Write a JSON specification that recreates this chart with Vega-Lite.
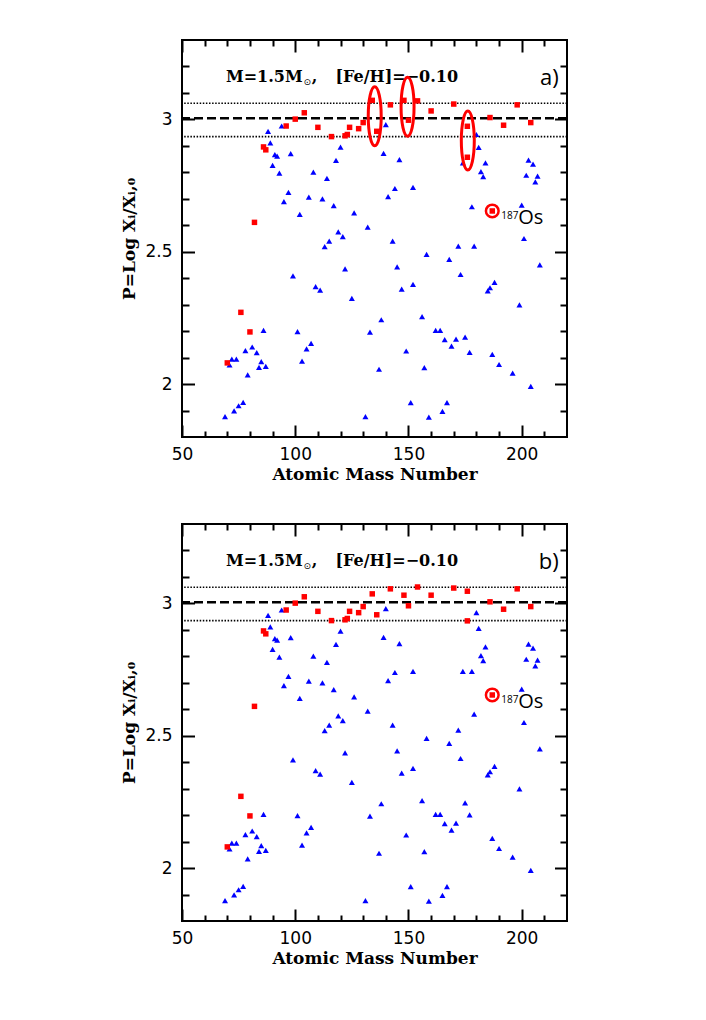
{
  "$schema": "https://vega.github.io/schema/vega-lite/v6.json",
  "padding": {"left": 119, "top": 38, "right": 5, "bottom": 5},
  "background": "white",
  "spacing": 87,
  "bounds": "flush",
  "datasets": {
    "one": [{}],
    "blue_a": [
      {"A":69,"P":1.877},{"A":71,"P":2.072},{"A":72,"P":2.094},{"A":73,"P":1.899},{"A":74,"P":2.094},{"A":75,"P":1.918},{"A":77,"P":1.931},{"A":78,"P":2.126},{"A":79,"P":2.035},{"A":81,"P":2.140},{"A":83,"P":2.119},{"A":84,"P":2.063},{"A":85,"P":2.085},{"A":86,"P":2.203},{"A":87,"P":2.067},{"A":88,"P":2.955},{"A":89,"P":2.911},{"A":90,"P":2.826},{"A":91,"P":2.867},{"A":92,"P":2.861},{"A":93,"P":2.797},{"A":94,"P":2.975},{"A":95,"P":2.689},{"A":97,"P":2.724},{"A":98,"P":2.871},{"A":99,"P":2.409},{"A":101,"P":2.198},{"A":102,"P":2.641},{"A":103,"P":2.087},{"A":105,"P":2.133},{"A":106,"P":2.706},{"A":107,"P":2.154},{"A":108,"P":2.801},{"A":109,"P":2.368},{"A":111,"P":2.355},{"A":112,"P":2.700},{"A":113,"P":2.519},{"A":114,"P":2.777},{"A":115,"P":2.540},{"A":117,"P":2.674},{"A":118,"P":2.845},{"A":119,"P":2.575},{"A":120,"P":2.895},{"A":121,"P":2.557},{"A":122,"P":2.435},{"A":125,"P":2.324},{"A":126,"P":2.647},{"A":131,"P":1.877},{"A":132,"P":2.593},{"A":133,"P":2.196},{"A":137,"P":2.056},{"A":138,"P":2.243},{"A":139,"P":2.872},{"A":140,"P":2.980},{"A":141,"P":2.708},{"A":143,"P":2.540},{"A":144,"P":2.739},{"A":145,"P":2.443},{"A":146,"P":2.848},{"A":147,"P":2.359},{"A":149,"P":2.125},{"A":151,"P":1.930},{"A":152,"P":2.377},{"A":152,"P":2.743},{"A":156,"P":2.255},{"A":157,"P":2.062},{"A":158,"P":2.490},{"A":159,"P":1.875},{"A":162,"P":2.203},{"A":164,"P":2.203},{"A":165,"P":1.897},{"A":166,"P":2.168},{"A":167,"P":1.930},{"A":168,"P":2.471},{"A":169,"P":2.143},{"A":171,"P":2.170},{"A":172,"P":2.521},{"A":173,"P":2.414},{"A":174,"P":2.836},{"A":175,"P":2.177},{"A":177,"P":2.120},{"A":178,"P":2.670},{"A":179,"P":2.521},{"A":180,"P":2.943},{"A":181,"P":2.894},{"A":182,"P":2.803},{"A":183,"P":2.784},{"A":184,"P":2.836},{"A":185,"P":2.352},{"A":186,"P":2.364},{"A":187,"P":2.112},{"A":188,"P":2.384},{"A":190,"P":2.074},{"A":196,"P":2.041},{"A":199,"P":2.299},{"A":200,"P":2.676},{"A":201,"P":2.550},{"A":202,"P":2.789},{"A":203,"P":2.846},{"A":204,"P":1.991},{"A":205,"P":2.831},{"A":206,"P":2.764},{"A":207,"P":2.786},{"A":208,"P":2.450}
    ],
    "blue_b": [
      {"A":69,"P":1.877},{"A":71,"P":2.072},{"A":72,"P":2.094},{"A":73,"P":1.899},{"A":74,"P":2.094},{"A":75,"P":1.918},{"A":77,"P":1.931},{"A":78,"P":2.126},{"A":79,"P":2.035},{"A":81,"P":2.140},{"A":83,"P":2.119},{"A":84,"P":2.063},{"A":85,"P":2.085},{"A":86,"P":2.203},{"A":87,"P":2.067},{"A":88,"P":2.955},{"A":89,"P":2.911},{"A":90,"P":2.826},{"A":91,"P":2.867},{"A":92,"P":2.861},{"A":93,"P":2.797},{"A":94,"P":2.975},{"A":95,"P":2.689},{"A":97,"P":2.724},{"A":98,"P":2.871},{"A":99,"P":2.409},{"A":101,"P":2.198},{"A":102,"P":2.641},{"A":103,"P":2.087},{"A":105,"P":2.133},{"A":106,"P":2.706},{"A":107,"P":2.154},{"A":108,"P":2.801},{"A":109,"P":2.368},{"A":111,"P":2.355},{"A":112,"P":2.700},{"A":113,"P":2.519},{"A":114,"P":2.777},{"A":115,"P":2.540},{"A":117,"P":2.674},{"A":118,"P":2.845},{"A":119,"P":2.575},{"A":120,"P":2.895},{"A":121,"P":2.557},{"A":122,"P":2.435},{"A":125,"P":2.324},{"A":126,"P":2.647},{"A":131,"P":1.877},{"A":132,"P":2.593},{"A":133,"P":2.196},{"A":137,"P":2.056},{"A":138,"P":2.243},{"A":139,"P":2.872},{"A":140,"P":2.980},{"A":141,"P":2.708},{"A":143,"P":2.540},{"A":144,"P":2.739},{"A":145,"P":2.443},{"A":146,"P":2.848},{"A":147,"P":2.359},{"A":149,"P":2.125},{"A":151,"P":1.930},{"A":152,"P":2.377},{"A":152,"P":2.743},{"A":156,"P":2.255},{"A":157,"P":2.062},{"A":158,"P":2.490},{"A":159,"P":1.875},{"A":162,"P":2.203},{"A":164,"P":2.203},{"A":165,"P":1.897},{"A":166,"P":2.168},{"A":167,"P":1.930},{"A":168,"P":2.471},{"A":169,"P":2.143},{"A":171,"P":2.170},{"A":172,"P":2.521},{"A":173,"P":2.414},{"A":174,"P":2.743},{"A":175,"P":2.246},{"A":177,"P":2.201},{"A":178,"P":2.743},{"A":179,"P":2.582},{"A":180,"P":2.965},{"A":181,"P":2.906},{"A":182,"P":2.803},{"A":183,"P":2.784},{"A":184,"P":2.836},{"A":185,"P":2.352},{"A":186,"P":2.364},{"A":187,"P":2.112},{"A":188,"P":2.384},{"A":190,"P":2.074},{"A":196,"P":2.041},{"A":199,"P":2.299},{"A":200,"P":2.676},{"A":201,"P":2.550},{"A":202,"P":2.789},{"A":203,"P":2.846},{"A":204,"P":1.991},{"A":205,"P":2.831},{"A":206,"P":2.764},{"A":207,"P":2.786},{"A":208,"P":2.450}
    ],
    "red_a": [
      {"A":70,"P":2.080},{"A":76,"P":2.271},{"A":80,"P":2.197},{"A":82,"P":2.611},{"A":86,"P":2.896},{"A":87,"P":2.885},{"A":96,"P":2.975},{"A":100,"P":3.001},{"A":104,"P":3.025},{"A":110,"P":2.970},{"A":116,"P":2.935},{"A":122,"P":2.938},{"A":123,"P":2.943},{"A":124,"P":2.970},{"A":128,"P":2.965},{"A":130,"P":2.988},{"A":134,"P":3.072},{"A":136,"P":2.955},{"A":142,"P":3.055},{"A":148,"P":3.072},{"A":150,"P":2.997},{"A":154,"P":3.070},{"A":160,"P":3.032},{"A":170,"P":3.058},{"A":176,"P":2.974},{"A":176,"P":2.857},{"A":186,"P":3.007},{"A":187,"P":2.654},{"A":192,"P":2.978},{"A":198,"P":3.055},{"A":204,"P":2.988}
    ],
    "red_b": [
      {"A":70,"P":2.080},{"A":76,"P":2.271},{"A":80,"P":2.197},{"A":82,"P":2.611},{"A":86,"P":2.896},{"A":87,"P":2.885},{"A":96,"P":2.975},{"A":100,"P":3.001},{"A":104,"P":3.025},{"A":110,"P":2.970},{"A":116,"P":2.935},{"A":122,"P":2.938},{"A":123,"P":2.943},{"A":124,"P":2.970},{"A":128,"P":2.965},{"A":130,"P":2.988},{"A":134,"P":3.036},{"A":136,"P":2.957},{"A":142,"P":3.055},{"A":148,"P":3.031},{"A":150,"P":2.991},{"A":154,"P":3.062},{"A":160,"P":3.031},{"A":170,"P":3.058},{"A":176,"P":3.046},{"A":176,"P":2.934},{"A":186,"P":3.006},{"A":187,"P":2.654},{"A":192,"P":2.978},{"A":198,"P":3.055},{"A":204,"P":2.988}
    ]
  },
  "vconcat": [
    {
      "width": 385,
      "height": 397,
      "resolve": {"axis": {"x": "independent", "y": "independent"}},
      "layer": [
        {"data": {"name": "one"}, "mark": {"type": "rule", "strokeDash": [1.5, 1.6], "strokeWidth": 1.7, "color": "black"}, "encoding": {"y": {"datum": 3.061, "type": "quantitative", "axis": null}}},
        {"data": {"name": "one"}, "mark": {"type": "rule", "strokeDash": [1.5, 1.6], "strokeWidth": 1.7, "color": "black"}, "encoding": {"y": {"datum": 2.935, "type": "quantitative", "axis": null}}},
        {"data": {"name": "one"}, "mark": {"type": "rule", "strokeDash": [9, 4], "strokeWidth": 2.5, "color": "black"}, "encoding": {"y": {"datum": 3.004, "type": "quantitative", "axis": null}}},
        {
          "data": {"name": "blue_a"},
          "mark": {"type": "point", "shape": "triangle-up", "filled": true, "color": "#0000ff", "size": 36, "opacity": 1},
          "encoding": {
            "x": {"field": "A", "type": "quantitative", "scale": {"domain": [50, 220], "nice": false, "zero": false},
                  "axis": {"orient": "bottom", "values": [50, 100, 150, 200], "format": "d", "ticks": false, "labelPadding": 9.5, "labelFlush": false, "title": "Atomic Mass Number", "titlePadding": 4}},
            "y": {"field": "P", "type": "quantitative", "scale": {"domain": [1.8, 3.3], "nice": false, "zero": false},
                  "axis": {"orient": "left", "values": [2, 2.5, 3], "format": "~g", "ticks": false, "labelPadding": 10, "title": "P=Log Xᵢ/Xᵢ,₀", "titlePadding": 6}}
          }
        },
        {
          "data": {"name": "red_a"},
          "mark": {"type": "point", "shape": "square", "filled": true, "color": "#ff0000", "size": 30, "opacity": 1},
          "encoding": {
            "x": {"field": "A", "type": "quantitative", "axis": {"orient": "bottom", "values": [50, 100, 150, 200], "labels": false, "tickSize": -12, "title": null}},
            "y": {"field": "P", "type": "quantitative", "axis": {"orient": "left", "values": [2, 2.5, 3], "labels": false, "tickSize": -12.5, "title": null}}
          }
        },
        {
          "data": {"name": "one"},
          "mark": {"type": "point", "shape": "circle", "filled": false, "stroke": "#ff0000", "strokeWidth": 2.5, "size": 160, "opacity": 1},
          "encoding": {
            "x": {"datum": 187, "type": "quantitative", "axis": {"orient": "bottom", "values": [60, 70, 80, 90, 110, 120, 130, 140, 160, 170, 180, 190, 210], "labels": false, "tickSize": -6, "title": null}},
            "y": {"datum": 2.654, "type": "quantitative", "axis": {"orient": "left", "values": [1.9, 2.1, 2.2, 2.3, 2.4, 2.6, 2.7, 2.8, 2.9, 3.1, 3.2], "labels": false, "tickSize": -7, "title": null}}
          }
        },
        {
          "data": {"name": "one"},
          "mark": {"type": "text", "text": "M=1.5M", "align": "left", "baseline": "alphabetic", "font": "DejaVu Serif", "fontWeight": "bold", "fontSize": 16, "color": "black"},
          "encoding": {
            "x": {"datum": 69.4, "type": "quantitative", "axis": {"orient": "top", "values": [50, 100, 150, 200], "labels": false, "tickSize": -12, "title": null}},
            "y": {"datum": 3.1415, "type": "quantitative", "axis": {"orient": "right", "values": [2, 2.5, 3], "labels": false, "tickSize": -12.5, "title": null}}
          }
        },
        {
          "data": {"name": "one"},
          "mark": {"type": "text", "text": "⊙", "align": "left", "baseline": "alphabetic", "font": "DejaVu Sans", "fontSize": 9, "color": "black"},
          "encoding": {"x": {"datum": 103.6, "type": "quantitative", "axis": null}, "y": {"datum": 3.131, "type": "quantitative", "axis": null}}
        },
        {
          "data": {"name": "one"},
          "mark": {"type": "text", "text": ",", "align": "left", "baseline": "alphabetic", "font": "DejaVu Serif", "fontWeight": "bold", "fontSize": 16, "color": "black"},
          "encoding": {"x": {"datum": 107.3, "type": "quantitative", "axis": null}, "y": {"datum": 3.1415, "type": "quantitative", "axis": null}}
        },
        {
          "data": {"name": "one"},
          "mark": {"type": "text", "text": "[Fe/H]=−0.10", "align": "right", "baseline": "alphabetic", "font": "DejaVu Serif", "fontWeight": "bold", "fontSize": 16, "color": "black"},
          "encoding": {"x": {"datum": 171.9, "type": "quantitative", "axis": null}, "y": {"datum": 3.1415, "type": "quantitative", "axis": null}}
        },
        {
          "data": {"name": "one"},
          "mark": {"type": "text", "text": "a)", "align": "right", "baseline": "alphabetic", "font": "Open Sans", "fontSize": 22, "color": "black"},
          "encoding": {
            "x": {"datum": 216.3, "type": "quantitative", "axis": {"orient": "top", "values": [60, 70, 80, 90, 110, 120, 130, 140, 160, 170, 180, 190, 210], "labels": false, "tickSize": -6, "title": null}},
            "y": {"datum": 3.129, "type": "quantitative", "axis": {"orient": "right", "values": [1.9, 2.1, 2.2, 2.3, 2.4, 2.6, 2.7, 2.8, 2.9, 3.1, 3.2], "labels": false, "tickSize": -7, "title": null}}
          }
        },
        {
          "data": {"name": "one"},
          "mark": {"type": "text", "text": "187", "align": "left", "baseline": "alphabetic", "font": "Open Sans", "fontSize": 10, "color": "black"},
          "encoding": {"x": {"datum": 191.0, "type": "quantitative", "axis": null}, "y": {"datum": 2.6245, "type": "quantitative", "axis": null}}
        },
        {
          "data": {"name": "one"},
          "mark": {"type": "text", "text": "Os", "align": "left", "baseline": "alphabetic", "font": "Open Sans", "fontSize": 20, "color": "black"},
          "encoding": {"x": {"datum": 198.5, "type": "quantitative", "axis": null}, "y": {"datum": 2.604, "type": "quantitative", "axis": null}}
        },
        {
          "data": {"name": "one"},
          "mark": {"type": "point", "shape": "M0,-1C0.1215,-1,0.22,-0.5523,0.22,0C0.22,0.5523,0.1215,1,0,1C-0.1215,1,-0.22,0.5523,-0.22,0C-0.22,-0.5523,-0.1215,-1,0,-1Z", "filled": false, "stroke": "#ff0000", "strokeWidth": 3, "size": 3481, "opacity": 1},
          "encoding": {"x": {"datum": 135.1, "type": "quantitative", "axis": null}, "y": {"datum": 3.012, "type": "quantitative", "axis": null}}
        },
        {
          "data": {"name": "one"},
          "mark": {"type": "point", "shape": "M0,-1C0.1215,-1,0.22,-0.5523,0.22,0C0.22,0.5523,0.1215,1,0,1C-0.1215,1,-0.22,0.5523,-0.22,0C-0.22,-0.5523,-0.1215,-1,0,-1Z", "filled": false, "stroke": "#ff0000", "strokeWidth": 3, "size": 3481, "opacity": 1},
          "encoding": {"x": {"datum": 149.6, "type": "quantitative", "axis": null}, "y": {"datum": 3.048, "type": "quantitative", "axis": null}}
        },
        {
          "data": {"name": "one"},
          "mark": {"type": "point", "shape": "M0,-1C0.1215,-1,0.22,-0.5523,0.22,0C0.22,0.5523,0.1215,1,0,1C-0.1215,1,-0.22,0.5523,-0.22,0C-0.22,-0.5523,-0.1215,-1,0,-1Z", "filled": false, "stroke": "#ff0000", "strokeWidth": 3, "size": 3481, "opacity": 1},
          "encoding": {"x": {"datum": 176.2, "type": "quantitative", "axis": null}, "y": {"datum": 2.92, "type": "quantitative", "axis": null}}
        }
      ]
    },
    {
      "width": 385,
      "height": 397,
      "resolve": {"axis": {"x": "independent", "y": "independent"}},
      "layer": [
        {"data": {"name": "one"}, "mark": {"type": "rule", "strokeDash": [1.5, 1.6], "strokeWidth": 1.7, "color": "black"}, "encoding": {"y": {"datum": 3.061, "type": "quantitative", "axis": null}}},
        {"data": {"name": "one"}, "mark": {"type": "rule", "strokeDash": [1.5, 1.6], "strokeWidth": 1.7, "color": "black"}, "encoding": {"y": {"datum": 2.935, "type": "quantitative", "axis": null}}},
        {"data": {"name": "one"}, "mark": {"type": "rule", "strokeDash": [9, 4], "strokeWidth": 2.5, "color": "black"}, "encoding": {"y": {"datum": 3.004, "type": "quantitative", "axis": null}}},
        {
          "data": {"name": "blue_b"},
          "mark": {"type": "point", "shape": "triangle-up", "filled": true, "color": "#0000ff", "size": 36, "opacity": 1},
          "encoding": {
            "x": {"field": "A", "type": "quantitative", "scale": {"domain": [50, 220], "nice": false, "zero": false},
                  "axis": {"orient": "bottom", "values": [50, 100, 150, 200], "format": "d", "ticks": false, "labelPadding": 9.5, "labelFlush": false, "title": "Atomic Mass Number", "titlePadding": 4}},
            "y": {"field": "P", "type": "quantitative", "scale": {"domain": [1.8, 3.3], "nice": false, "zero": false},
                  "axis": {"orient": "left", "values": [2, 2.5, 3], "format": "~g", "ticks": false, "labelPadding": 10, "title": "P=Log Xᵢ/Xᵢ,₀", "titlePadding": 6}}
          }
        },
        {
          "data": {"name": "red_b"},
          "mark": {"type": "point", "shape": "square", "filled": true, "color": "#ff0000", "size": 30, "opacity": 1},
          "encoding": {
            "x": {"field": "A", "type": "quantitative", "axis": {"orient": "bottom", "values": [50, 100, 150, 200], "labels": false, "tickSize": -12, "title": null}},
            "y": {"field": "P", "type": "quantitative", "axis": {"orient": "left", "values": [2, 2.5, 3], "labels": false, "tickSize": -12.5, "title": null}}
          }
        },
        {
          "data": {"name": "one"},
          "mark": {"type": "point", "shape": "circle", "filled": false, "stroke": "#ff0000", "strokeWidth": 2.5, "size": 160, "opacity": 1},
          "encoding": {
            "x": {"datum": 187, "type": "quantitative", "axis": {"orient": "bottom", "values": [60, 70, 80, 90, 110, 120, 130, 140, 160, 170, 180, 190, 210], "labels": false, "tickSize": -6, "title": null}},
            "y": {"datum": 2.654, "type": "quantitative", "axis": {"orient": "left", "values": [1.9, 2.1, 2.2, 2.3, 2.4, 2.6, 2.7, 2.8, 2.9, 3.1, 3.2], "labels": false, "tickSize": -7, "title": null}}
          }
        },
        {
          "data": {"name": "one"},
          "mark": {"type": "text", "text": "M=1.5M", "align": "left", "baseline": "alphabetic", "font": "DejaVu Serif", "fontWeight": "bold", "fontSize": 16, "color": "black"},
          "encoding": {
            "x": {"datum": 69.4, "type": "quantitative", "axis": {"orient": "top", "values": [50, 100, 150, 200], "labels": false, "tickSize": -12, "title": null}},
            "y": {"datum": 3.1415, "type": "quantitative", "axis": {"orient": "right", "values": [2, 2.5, 3], "labels": false, "tickSize": -12.5, "title": null}}
          }
        },
        {
          "data": {"name": "one"},
          "mark": {"type": "text", "text": "⊙", "align": "left", "baseline": "alphabetic", "font": "DejaVu Sans", "fontSize": 9, "color": "black"},
          "encoding": {"x": {"datum": 103.6, "type": "quantitative", "axis": null}, "y": {"datum": 3.131, "type": "quantitative", "axis": null}}
        },
        {
          "data": {"name": "one"},
          "mark": {"type": "text", "text": ",", "align": "left", "baseline": "alphabetic", "font": "DejaVu Serif", "fontWeight": "bold", "fontSize": 16, "color": "black"},
          "encoding": {"x": {"datum": 107.3, "type": "quantitative", "axis": null}, "y": {"datum": 3.1415, "type": "quantitative", "axis": null}}
        },
        {
          "data": {"name": "one"},
          "mark": {"type": "text", "text": "[Fe/H]=−0.10", "align": "right", "baseline": "alphabetic", "font": "DejaVu Serif", "fontWeight": "bold", "fontSize": 16, "color": "black"},
          "encoding": {"x": {"datum": 171.9, "type": "quantitative", "axis": null}, "y": {"datum": 3.1415, "type": "quantitative", "axis": null}}
        },
        {
          "data": {"name": "one"},
          "mark": {"type": "text", "text": "b)", "align": "right", "baseline": "alphabetic", "font": "Open Sans", "fontSize": 22, "color": "black"},
          "encoding": {
            "x": {"datum": 216.3, "type": "quantitative", "axis": {"orient": "top", "values": [60, 70, 80, 90, 110, 120, 130, 140, 160, 170, 180, 190, 210], "labels": false, "tickSize": -6, "title": null}},
            "y": {"datum": 3.129, "type": "quantitative", "axis": {"orient": "right", "values": [1.9, 2.1, 2.2, 2.3, 2.4, 2.6, 2.7, 2.8, 2.9, 3.1, 3.2], "labels": false, "tickSize": -7, "title": null}}
          }
        },
        {
          "data": {"name": "one"},
          "mark": {"type": "text", "text": "187", "align": "left", "baseline": "alphabetic", "font": "Open Sans", "fontSize": 10, "color": "black"},
          "encoding": {"x": {"datum": 191.0, "type": "quantitative", "axis": null}, "y": {"datum": 2.6245, "type": "quantitative", "axis": null}}
        },
        {
          "data": {"name": "one"},
          "mark": {"type": "text", "text": "Os", "align": "left", "baseline": "alphabetic", "font": "Open Sans", "fontSize": 20, "color": "black"},
          "encoding": {"x": {"datum": 198.5, "type": "quantitative", "axis": null}, "y": {"datum": 2.604, "type": "quantitative", "axis": null}}
        }
      ]
    }
  ],
  "config": {
    "view": {"stroke": "black", "strokeWidth": 2},
    "axis": {
      "grid": false,
      "domain": false,
      "labelFont": "DejaVu Sans",
      "labelFontSize": 17,
      "labelColor": "black",
      "titleFont": "DejaVu Serif",
      "titleFontWeight": "bold",
      "titleFontSize": 17,
      "titleColor": "black",
      "tickColor": "black",
      "tickWidth": 2
    }
  }
}
